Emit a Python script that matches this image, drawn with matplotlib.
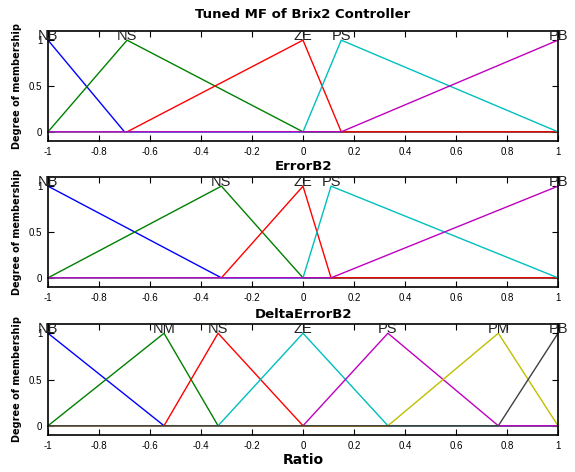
import numpy as np
import matplotlib
matplotlib.use("Agg")
import matplotlib.pyplot as plt

plt.rcParams['font.family'] = ['Liberation Sans', 'DejaVu Sans']

# Membership functions (triangles a, b, c) for each panel
p1_names = ["NB", "NS", "ZE", "PS", "PB"]
p1_params = [(-1.0, -1.0, -0.70), (-1.0, -0.69, 0.0), (-0.69, 0.0, 0.15),
             (0.0, 0.15, 1.0), (0.15, 1.0, 1.0)]
p1_colors = ["#0000ff", "#008000", "#ff0000", "#00bfbf", "#bf00bf"]

p2_names = ["NB", "NS", "ZE", "PS", "PB"]
p2_params = [(-1.0, -1.0, -0.32), (-1.0, -0.32, 0.0), (-0.32, 0.0, 0.11),
             (0.0, 0.11, 1.0), (0.11, 1.0, 1.0)]
p2_colors = ["#0000ff", "#008000", "#ff0000", "#00bfbf", "#bf00bf"]

p3_names = ["NB", "NM", "NS", "ZE", "PS", "PM", "PB"]
p3_params = [(-1.0, -1.0, -0.545), (-1.0, -0.545, -0.333), (-0.545, -0.333, 0.0),
             (-0.333, 0.0, 0.333), (0.0, 0.333, 0.766), (0.333, 0.766, 1.0),
             (0.766, 1.0, 1.0)]
p3_colors = ["#0000ff", "#008000", "#ff0000", "#00bfbf", "#bf00bf", "#bfbf00", "#404040"]

x_ticks = [-1, -0.8, -0.6, -0.4, -0.2, 0, 0.2, 0.4, 0.6, 0.8, 1]
x_ticklabels = ["-1", "-0.8", "-0.6", "-0.4", "-0.2", "0", "0.2", "0.4", "0.6", "0.8", "1"]
y_ticks = [0, 0.5, 1]
y_ticklabels = ["0", "0.5", "1"]


def trimf(x, a, b, c):
    y = np.zeros_like(x)
    if b > a:
        m = (x >= a) & (x <= b)
        y[m] = (x[m] - a) / (b - a)
    if c > b:
        m = (x >= b) & (x <= c)
        y[m] = np.maximum(y[m], (c - x[m]) / (c - b))
    y[np.isclose(x, b)] = 1.0
    return y


fig = plt.figure(figsize=(5.75, 4.72), dpi=100)
positions = [
    [48/575, 1-141/472, 510/575, 110/472],
    [48/575, 1-287/472, 510/575, 110/472],
    [48/575, 1-435/472, 510/575, 111/472],
]
panels = [(p1_names, p1_params, p1_colors),
          (p2_names, p2_params, p2_colors),
          (p3_names, p3_params, p3_colors)]

wide = ['DejaVu Sans']

x = np.linspace(-1, 1, 2001)
for pos, (names, params, colors) in zip(positions, panels):
    ax = fig.add_axes(pos)
    for name, (a, b, c), col in zip(names, params, colors):
        ax.plot(x, trimf(x, a, b, c), color=col, lw=1.0, clip_on=False)
        ax.text(b, 1.005, name, ha='center', va='baseline', fontsize=10.5, color='#202020')
    ax.set_xlim(-1, 1)
    ax.set_ylim(-0.1, 1.1)
    ax.set_xticks(x_ticks)
    ax.set_xticklabels(x_ticklabels)
    ax.set_yticks(y_ticks)
    ax.set_yticklabels(y_ticklabels)
    ax.tick_params(direction='in', top=True, right=True, length=4, width=0.8,
                   labelsize=7, pad=4)
    for s in ax.spines.values():
        s.set_linewidth(1.2)
    ax.set_ylabel("Degree of membership", fontsize=7, fontweight='bold', labelpad=5,
                  family=wide)

fig.text(303/575, 1-15/472, "Tuned MF of Brix2 Controller", ha='center', va='center',
         fontsize=9.5, fontweight='bold', family=wide)
fig.text(303/575, 1-166/472, "ErrorB2", ha='center', va='center',
         fontsize=9.5, fontweight='bold', family=wide)
fig.text(303/575, 1-314/472, "DeltaErrorB2", ha='center', va='center',
         fontsize=9.5, fontweight='bold', family=wide)
fig.text(303/575, 1-460/472, "Ratio", ha='center', va='center',
         fontsize=10, fontweight='bold', family=wide)

fig.savefig("out.png", dpi=100)
